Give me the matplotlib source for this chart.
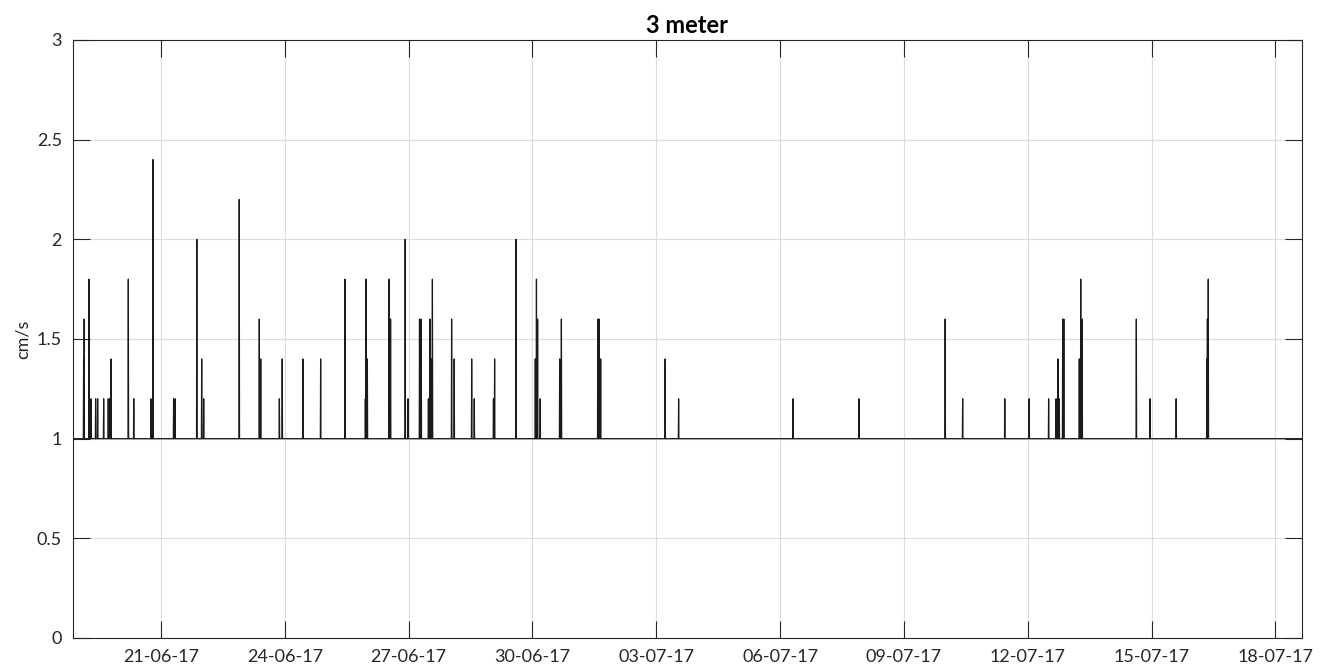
import numpy as np
import pandas as pd
import matplotlib
matplotlib.use('Agg')
import matplotlib.pyplot as plt
import matplotlib.dates as mdates

plt.rcParams['font.family'] = ['Lato', 'DejaVu Sans']

# record span and sampling
t_start = '2017-06-18 20:50'
t_end = '2017-07-18 15:30'
base_value = 1.0

# peaks above the 1 cm/s floor (time, value)
peak_times = [
    '2017-06-19 03:00', '2017-06-19 03:24', '2017-06-19 06:07', '2017-06-19 07:18',
    '2017-06-19 10:02', '2017-06-19 11:11', '2017-06-19 14:41', '2017-06-19 17:21',
    '2017-06-19 18:10', '2017-06-19 18:55', '2017-06-20 04:59', '2017-06-20 08:08',
    '2017-06-20 18:11', '2017-06-20 19:21', '2017-06-21 07:23', '2017-06-21 08:08',
    '2017-06-21 20:46', '2017-06-21 23:40', '2017-06-22 00:50', '2017-06-22 21:32',
    '2017-06-23 09:10', '2017-06-23 09:59', '2017-06-23 20:47', '2017-06-23 22:32',
    '2017-06-24 10:25', '2017-06-24 20:53', '2017-06-25 10:59', '2017-06-25 22:50',
    '2017-06-25 23:12', '2017-06-25 23:58', '2017-06-26 12:36', '2017-06-26 13:28',
    '2017-06-26 22:04', '2017-06-26 23:38', '2017-06-27 06:20', '2017-06-27 07:20',
    '2017-06-27 11:27', '2017-06-27 12:26', '2017-06-27 13:12', '2017-06-27 13:47',
    '2017-06-28 01:03', '2017-06-28 02:34', '2017-06-28 12:41', '2017-06-28 14:12',
    '2017-06-29 01:20', '2017-06-29 02:04', '2017-06-29 14:27', '2017-06-30 01:41',
    '2017-06-30 02:15', '2017-06-30 03:04', '2017-06-30 04:25', '2017-06-30 15:52',
    '2017-06-30 16:48', '2017-07-01 14:00', '2017-07-01 14:40', '2017-07-01 15:42',
    '2017-07-03 05:05', '2017-07-03 13:03', '2017-07-06 07:32', '2017-07-07 21:45',
    '2017-07-09 23:56', '2017-07-10 10:13', '2017-07-11 10:38', '2017-07-12 00:46',
    '2017-07-12 12:14', '2017-07-12 16:28', '2017-07-12 17:38', '2017-07-12 18:23',
    '2017-07-12 20:15', '2017-07-12 20:57', '2017-07-13 06:01', '2017-07-13 06:50',
    '2017-07-13 07:35', '2017-07-14 15:10', '2017-07-14 23:08', '2017-07-15 14:15',
    '2017-07-16 08:07', '2017-07-16 08:34', '2017-07-16 09:03',
]
peak_values = [
    1.4, 1.6, 1.8, 1.2,
    1.2, 1.2, 1.2, 1.2,
    1.2, 1.4, 1.8, 1.2,
    1.2, 2.4, 1.2, 1.2,
    2.0, 1.4, 1.2, 2.2,
    1.6, 1.4, 1.2, 1.4,
    1.4, 1.4, 1.8, 1.2,
    1.8, 1.4, 1.8, 1.6,
    2.0, 1.2, 1.6, 1.6,
    1.2, 1.6, 1.4, 1.8,
    1.6, 1.4, 1.4, 1.2,
    1.2, 1.4, 2.0, 1.4,
    1.8, 1.6, 1.2, 1.4,
    1.6, 1.6, 1.6, 1.4,
    1.4, 1.2, 1.2, 1.2,
    1.6, 1.2, 1.2, 1.2,
    1.2, 1.2, 1.4, 1.2,
    1.6, 1.6, 1.4, 1.8,
    1.6, 1.6, 1.2, 1.2,
    1.4, 1.6, 1.8,
]

tick_dates = ['2017-06-21', '2017-06-24', '2017-06-27', '2017-06-30', '2017-07-03',
              '2017-07-06', '2017-07-09', '2017-07-12', '2017-07-15', '2017-07-18']
y_ticks = [0, 0.5, 1, 1.5, 2, 2.5, 3]

# build the 10-minute series
t = pd.date_range(t_start, t_end, freq='10min')
v = np.full(len(t), base_value)
idx = t.get_indexer(pd.to_datetime(peak_times), method='nearest')
for i, val in zip(idx, peak_values):
    v[i] = max(v[i], val)

fig = plt.figure(figsize=(13.27, 6.71), dpi=100)
ax = fig.add_axes([73 / 1327, 1 - 638 / 671, (1302 - 73) / 1327, (638 - 40) / 671])

ax.plot(t, v, color='#1a1a1a', linewidth=0.9)

ax.set_xlim(t[0], t[-1])
ax.set_ylim(0, 3)
ax.set_yticks(y_ticks)
ax.set_yticklabels(['0', '0.5', '1', '1.5', '2', '2.5', '3'])
ax.set_xticks(pd.to_datetime(tick_dates))
ax.xaxis.set_major_formatter(mdates.DateFormatter('%d-%m-%y'))

ax.grid(True, color='#dcdcdc', linewidth=0.8)
ax.set_axisbelow(True)
ax.tick_params(direction='in', length=12, width=0.8, top=True, right=True,
               labelsize=13, colors='#262626', pad=8)
for s in ax.spines.values():
    s.set_color('#262626')
    s.set_linewidth(0.8)

ax.set_ylabel('cm/s', fontsize=13, color='#262626')
ax.set_title('3 meter', fontsize=17, fontweight='bold', color='black', pad=5)

fig.savefig('out.png', dpi=100)
